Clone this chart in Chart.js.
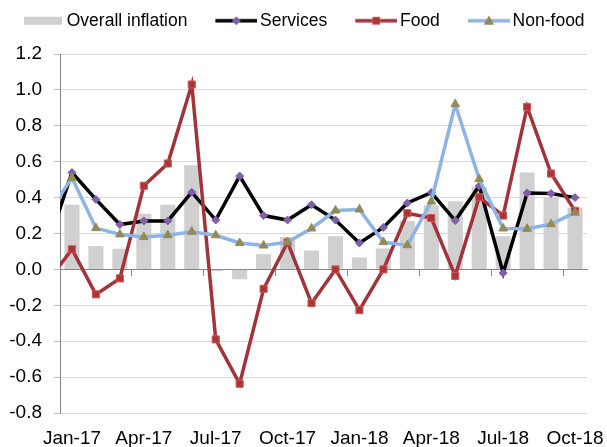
<!DOCTYPE html>
<html>
<head>
<meta charset="utf-8">
<script src="https://cdn.jsdelivr.net/npm/chart.js@4.4.1/dist/chart.umd.min.js"></script>
<style>
  html, body { margin: 0; padding: 0; background: #fff; }
  #wrap { width: 607px; height: 447px; }
</style>
</head>
<body>
<div id="wrap"><canvas id="chart" width="607" height="447"></canvas></div>
<script>
// months (Dec-16 is only there so the lines run in from the left edge, like the original)
const months = ['Dec-16', 'Jan-17', 'Feb-17', 'Mar-17', 'Apr-17', 'May-17', 'Jun-17', 'Jul-17', 'Aug-17',
  'Sep-17', 'Oct-17', 'Nov-17', 'Dec-17', 'Jan-18', 'Feb-18', 'Mar-18', 'Apr-18', 'May-18', 'Jun-18',
  'Jul-18', 'Aug-18', 'Sep-18', 'Oct-18'];
const tickLabels = ['Jan-17', 'Apr-17', 'Jul-17', 'Oct-17', 'Jan-18', 'Apr-18', 'Jul-18', 'Oct-18'];
const yTicks = [-0.8, -0.6, -0.4, -0.2, 0.0, 0.2, 0.4, 0.6, 0.8, 1.0, 1.2];

const overallInflation = [null, 0.36, 0.13, 0.115, 0.31, 0.36, 0.58, -0.01, -0.055, 0.085, 0.18, 0.105,
  0.185, 0.067, 0.117, 0.27, 0.358, 0.38, 0.46, 0.185, 0.54, 0.40, 0.345];
const services = [0.14, 0.54, 0.39, 0.25, 0.27, 0.27, 0.43, 0.275, 0.52, 0.30, 0.275, 0.36,
  0.275, 0.147, 0.234, 0.37, 0.428, 0.272, 0.465, -0.02, 0.426, 0.423, 0.40];
const food = [-0.064, 0.112, -0.139, -0.05, 0.466, 0.59, 1.03, -0.39, -0.637, -0.108, 0.15, -0.188,
  0.0, -0.227, 0.0, 0.313, 0.286, -0.036, 0.402, 0.30, 0.905, 0.534, 0.326];
const nonFood = [0.31, 0.51, 0.23, 0.195, 0.18, 0.19, 0.21, 0.19, 0.147, 0.133, 0.152, 0.228,
  0.328, 0.334, 0.152, 0.135, 0.378, 0.92, 0.503, 0.228, 0.226, 0.252, 0.316];

Chart.defaults.font.family = "'Liberation Sans', Arial, sans-serif";
Chart.defaults.color = '#000';

// legend swatch: Excel style line + marker, drawn into a small canvas
function swatch(type, color, marker, mFill, mStroke) {
  const c = document.createElement('canvas');
  c.width = 64; c.height = 14;
  const g = c.getContext('2d');
  if (type === 'box') {
    g.fillStyle = color;
    g.fillRect(24, 3, 38, 8);
    return c;
  }
  g.strokeStyle = color;
  g.lineWidth = 3.5;
  g.beginPath(); g.moveTo(22, 7); g.lineTo(64, 7); g.stroke();
  g.fillStyle = mFill; g.strokeStyle = mStroke; g.lineWidth = 1;
  g.beginPath();
  if (marker === 'rectRot') {
    g.moveTo(43, 3); g.lineTo(47, 7); g.lineTo(43, 11); g.lineTo(39, 7);
  } else if (marker === 'rect') {
    g.rect(39.5, 3.5, 7, 7);
  } else {
    g.moveTo(43, 2.5); g.lineTo(47.5, 10.5); g.lineTo(38.5, 10.5);
  }
  g.closePath(); g.fill(); g.stroke();
  return c;
}

const legendIcons = [
  swatch('box', '#d0d0d0'),
  swatch('line', '#000000', 'rectRot', '#7f5fa9', '#7f5fa9'),
  swatch('line', '#a0343a', 'rect', '#a93535', '#d25656'),
  swatch('line', '#8db4e2', 'triangle', '#948a54', '#948a54')
];

const legendSpace = {
  id: 'legendSpace',
  beforeInit(chart) {
    const fit = chart.legend.fit;
    chart.legend.fit = function () {
      fit.call(this);
      this.height += 14.5;
    };
  }
};

const ctx = document.getElementById('chart').getContext('2d');
new Chart(ctx, {
  type: 'bar',
  data: {
    labels: months,
    datasets: [
      {
        type: 'bar', label: 'Overall inflation', data: overallInflation, xAxisID: 'x', yAxisID: 'y',
        backgroundColor: '#d0d0d0', borderWidth: 0, barPercentage: 0.7, categoryPercentage: 0.9, order: 4
      },
      {
        type: 'line', label: 'Services', data: services, xAxisID: 'x', yAxisID: 'y',
        borderColor: '#000000', borderWidth: 3.5, tension: 0,
        pointStyle: 'rectRot', pointRadius: 4, pointBackgroundColor: '#7f5fa9', pointBorderColor: '#7f5fa9',
        pointBorderWidth: 1, order: 3
      },
      {
        type: 'line', label: 'Food', data: food, xAxisID: 'x', yAxisID: 'y',
        borderColor: '#a0343a', borderWidth: 3.5, tension: 0,
        pointStyle: 'rect', pointRadius: 5, pointBackgroundColor: '#a93535', pointBorderColor: '#d25656',
        pointBorderWidth: 1, order: 2
      },
      {
        type: 'line', label: 'Non-food', data: nonFood, xAxisID: 'x', yAxisID: 'y',
        borderColor: '#8db4e2', borderWidth: 3.5, tension: 0,
        pointStyle: 'triangle', pointRadius: 5, pointBackgroundColor: '#948a54', pointBorderColor: '#948a54',
        pointBorderWidth: 1, order: 1
      }
    ]
  },
  options: {
    responsive: false,
    animation: false,
    devicePixelRatio: 1,
    layout: { padding: { left: -6, right: 0, top: 0, bottom: 0 } },
    plugins: {
      tooltip: { enabled: false },
      legend: {
        position: 'top',
        align: 'start',
        labels: {
          usePointStyle: true,
          pointStyleWidth: 52,
          padding: 12,
          color: '#000',
          font: { size: 17.5 },
          generateLabels(chart) {
            return chart.data.datasets.map((ds, i) => ({
              text: ds.label,
              datasetIndex: i,
              pointStyle: legendIcons[i],
              fillStyle: '#000',
              strokeStyle: '#000',
              lineWidth: 0,
              hidden: false,
              fontColor: '#000'
            }));
          }
        }
      }
    },
    scales: {
      x: {
        type: 'category',
        position: 'bottom',
        min: 'Jan-17',
        offset: true,
        grid: { display: false, offset: true, drawTicks: false },
        border: { display: false },
        ticks: {
          autoSkip: false,
          maxRotation: 0,
          padding: 14,
          font: { size: 19 },
          color: '#000',
          callback(value) {
            const lab = this.getLabelForValue(value);
            return tickLabels.includes(lab) ? lab : '';
          }
        },
        afterFit(scale) {
          scale.height = 34;
          scale.paddingRight = 20;
        }
      },
      x2: {
        type: 'category',
        axis: 'x',
        position: { y: 0 },
        min: 'Jan-17',
        offset: true,
        ticks: { display: false },
        border: { display: true, color: '#868686', width: 1 },
        grid: {
          offset: true,
          drawOnChartArea: false,
          drawTicks: true,
          tickLength: 6,
          lineWidth: 1,
          color(c) {
            return (c.index !== undefined && c.index > 0 && c.index < 22 && c.index % 3 === 0)
              ? '#868686' : 'rgba(0,0,0,0)';
          }
        }
      },
      y: {
        position: 'left',
        min: -0.8,
        max: 1.2,
        afterBuildTicks(scale) {
          scale.ticks = yTicks.map(v => ({ value: v }));
        },
        grid: { color: '#d9d9d9', lineWidth: 1, drawTicks: true, tickLength: 6, tickColor: '#bfbfbf' },
        border: { display: true, color: '#868686', width: 1 },
        ticks: {
          padding: 12,
          font: { size: 19 },
          color: '#000',
          callback(value) {
            return Math.abs(value) < 1e-9 ? '0.0' : Number(value).toFixed(1);
          }
        },
        afterFit(scale) {
          scale.width = 66;
        }
      }
    }
  },
  plugins: [legendSpace]
});
</script>
</body>
</html>
